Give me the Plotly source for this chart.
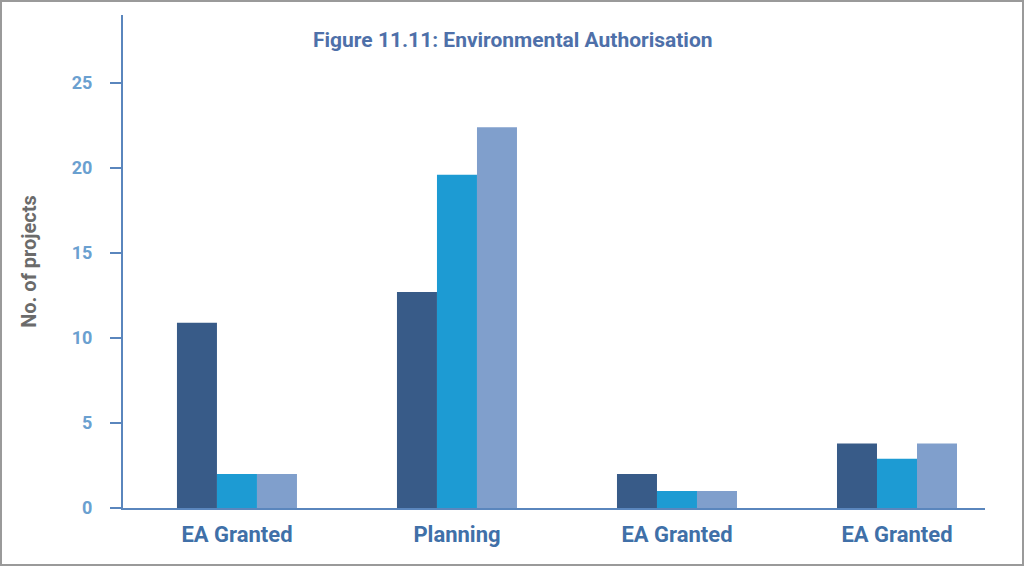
import plotly.graph_objects as go

# categories (labels repeat in the source, so positions are numeric)
categories = ["EA Granted", "Planning", "EA Granted", "EA Granted"]
positions = [0, 1, 2, 3]

# values
series_1 = [10.9, 12.7, 2.0, 3.8]
series_2 = [2.0, 19.6, 1.0, 2.9]
series_3 = [2.0, 22.4, 1.0, 3.8]

y_ticks = [0, 5, 10, 15, 20, 25]

colors = ["#385b88", "#1d9bd3", "#809fcc"]
font_name = "Roboto"

fig = go.Figure()
for name, vals, c in zip(["Series 1", "Series 2", "Series 3"],
                         [series_1, series_2, series_3], colors):
    fig.add_trace(go.Bar(x=positions, y=vals, name=name, marker_color=c,
                         marker_line_width=0, showlegend=False))

fig.update_layout(
    width=1024, height=566,
    margin=dict(l=123, r=39, t=15, b=58),
    paper_bgcolor="white", plot_bgcolor="white",
    barmode="group", bargap=0.4545, bargroupgap=0,
    font=dict(family=font_name),
    annotations=[dict(
        text="<b>Figure 11.11: Environmental Authorisation</b>",
        xref="paper", yref="paper", x=0.452, y=0.95,
        xanchor="center", yanchor="middle", showarrow=False,
        font=dict(size=21, color="#4e70a9", family=font_name),
    )],
    shapes=[dict(
        type="rect", xref="paper", yref="paper",
        x0=-122 / 862, x1=1 + 38 / 862, y0=-57 / 493, y1=1 + 14 / 493,
        line=dict(color="#9a9a9a", width=2), fillcolor="rgba(0,0,0,0)",
        layer="below",
    )],
)

fig.update_xaxes(
    range=[-0.518, 3.4],
    tickvals=positions, ticktext=["<b>%s</b>" % c for c in categories],
    tickfont=dict(size=22, color="#4070a8", family=font_name),
    showline=True, linecolor="#5a86bd", linewidth=2,
    ticks="", ticklabelstandoff=6, showgrid=False, zeroline=False,
)
fig.update_yaxes(
    range=[0, 29],
    tickvals=y_ticks, ticktext=["<b>%d</b>" % t for t in y_ticks],
    tickfont=dict(size=18, color="#6aa0d0", family=font_name),
    showline=True, linecolor="#5a86bd", linewidth=2,
    ticks="outside", ticklen=11, tickwidth=2, tickcolor="#5a86bd",
    ticklabelstandoff=14,
    showgrid=False, zeroline=False,
    title=dict(text="<b>No. of projects</b>", standoff=30,
               font=dict(size=20, color="#6b6b6b", family=font_name)),
)

fig.write_html("out.html", config={"displayModeBar": False},
               post_script="document.body.style.margin = '0';")
